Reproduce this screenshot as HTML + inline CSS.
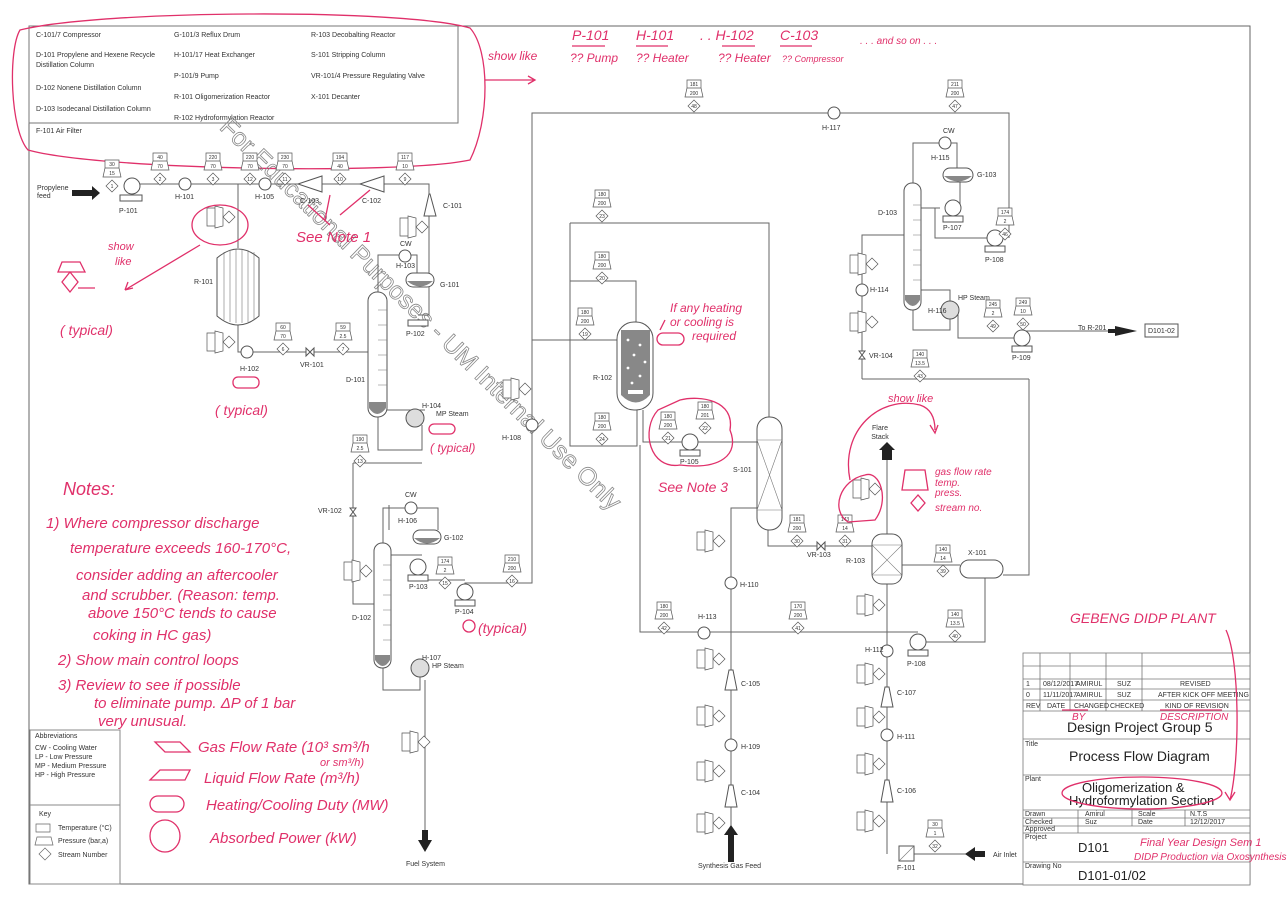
<!DOCTYPE html>
<html><head><meta charset="utf-8"><style>
html,body{margin:0;padding:0;background:#fff;}
svg{display:block;font-family:"Liberation Sans",sans-serif;}
.l{stroke:#666;stroke-width:1;fill:none}
.t{font-size:7px;fill:#333}
.s{font-size:5px;fill:#333;text-anchor:middle}
.r{fill:#e0306a;font-family:"Liberation Sans",sans-serif;font-style:italic}
.rl{stroke:#e0306a;stroke-width:1.3;fill:none}
</style></head><body>
<svg width="1287" height="905" viewBox="0 0 1287 905" xmlns="http://www.w3.org/2000/svg">
<rect x="29" y="26" width="1221" height="858" class="l" stroke="#999"/>
<rect x="29" y="26" width="429" height="97" fill="#fff" stroke="#777"/>
<g class="t">
<text x="36" y="37">C-101/7 Compressor</text>
<text x="36" y="57">D-101 Propylene and Hexene Recycle</text>
<text x="36" y="67">Distillation Column</text>
<text x="36" y="90">D-102 Nonene Distillation Column</text>
<text x="36" y="111">D-103 Isodecanal Distillation Column</text>
<text x="36" y="133">F-101 Air Filter</text>
<text x="174" y="37">G-101/3 Reflux Drum</text>
<text x="174" y="57">H-101/17 Heat Exchanger</text>
<text x="174" y="78">P-101/9 Pump</text>
<text x="174" y="99">R-101  Oligomerization Reactor</text>
<text x="174" y="120">R-102  Hydroformylation Reactor</text>
<text x="311" y="37">R-103  Decobalting Reactor</text>
<text x="311" y="57">S-101 Stripping Column</text>
<text x="311" y="78">VR-101/4 Pressure Regulating Valve</text>
<text x="311" y="99">X-101 Decanter</text>
</g>
<path class="rl" d="M20,30 C100,10 400,8 470,28 C490,50 490,120 470,160 C400,175 100,170 28,150 C10,130 8,50 20,30Z"/>
<path class="rl" d="M485,80 L535,80 M528,76 L535,80 L528,84"/>
<g class="r" font-size="12">
<text x="488" y="60">show like</text>
<text x="572" y="40" font-size="14">P-101</text><text x="570" y="62">?? Pump</text>
<text x="636" y="40" font-size="14">H-101</text><text x="636" y="62">?? Heater</text>
<text x="700" y="40" font-size="14">. . H-102</text><text x="718" y="62">?? Heater</text>
<text x="780" y="40" font-size="14">C-103</text><text x="782" y="62" font-size="9">?? Compressor</text>
<text x="860" y="44" font-size="10">. . . and so on . . .</text>
</g>
<path class="rl" d="M572,46 H605 M636,46 H668 M722,46 H755 M780,46 H812"/>

<text x="0" y="0" transform="translate(415,320) rotate(44.3)" text-anchor="middle" font-size="25" fill="none" stroke="#888" stroke-width="0.8">For Educational Purposes - UM Internal Use Only</text>

<g class="l">
<path d="M132,184 H429 V194 M429,216 V315 H418"/>
<path d="M238,184 V248 M238,325 V352 H368"/>
<path d="M378,292 V255 H417 V275"/>
<path d="M378,417 V450 H422 V425 M353,463 H422 M353,463 V604 H374"/>
<path d="M383,668 V690 H420 V675"/>
<path d="M383,543 V508 H438 V530"/>
<path d="M422,555 H391 M418,567 V580 H465"/>
<path d="M465,592 V583 H532 V113 H1009 V238"/>
<path d="M532,340 H617"/>
<path d="M570,223 H769 V417 M570,223 V446 H637 V410 M570,281 H636 V322"/>
<path d="M643,410 V442 H690 H757"/>
<path d="M768,530 V546 H872"/>
<path d="M887,534 V460"/>
<path d="M902,565 H960 M985,578 V642 H918"/>
<path d="M1029,379 V575 H1003 M862,379 H1029"/>
<path d="M640,445 V632 H918"/>
<path d="M731,860 V508 H757"/>
<path d="M887,854 V580 M906,854 H985"/>
<path d="M862,379 V235 H904"/>
<path d="M913,183 V143 H957 V168 M960,182 V208 H953"/>
<path d="M921,208 H940 M935,208 V238 H995"/>
<path d="M913,310 V330 H950 V318 M921,290 H950 V302"/>
<path d="M958,310 V338 H1022"/>
<path d="M1022,331 H1115"/>
<path d="M425,410 H387"/>
<path d="M389,505 V530"/>
</g>
<path d="M72,190 H92 V186 L100,193 L92,200 V196 H72Z" fill="#222"/>
<path d="M1115,326 L1137,331 L1115,336Z M1108,329 H1116 V333 H1108Z" fill="#222"/>
<path d="M882,460 H892 V450 H895 L887,442 L879,450 H882Z" fill="#222"/>
<path d="M728,862 V835 H724 L731,825 L738,835 H734 V862Z" fill="#222"/>
<path d="M985,851 H975 V847 L965,854 L975,861 V857 H985Z" fill="#222"/>
<path d="M422,830 V840 H418 L425,852 L432,840 H428 V830Z" fill="#222"/>
<path class="l" d="M425,680 V830"/>
<text x="37" y="190" class="t">Propylene</text><text x="37" y="198" class="t">feed</text>
<text x="880" y="430" class="t" text-anchor="middle">Flare</text><text x="880" y="439" class="t" text-anchor="middle">Stack</text>
<text x="698" y="868" class="t">Synthesis Gas Feed</text>
<text x="993" y="857" class="t">Air Inlet</text>
<text x="406" y="866" class="t">Fuel System</text>
<text x="1078" y="330" class="t">To  R-201</text>
<rect x="1145" y="324" width="33" height="13" fill="#fff" stroke="#555"/><text x="1148" y="333" class="t">D101-02</text>

<g fill="#fff" stroke="#555">
<circle cx="132" cy="186" r="8"/><rect x="120" y="195" width="22" height="6"/>
<circle cx="418" cy="567" r="8"/><rect x="408" y="575" width="20" height="6"/>
<circle cx="465" cy="592" r="8"/><rect x="455" y="600" width="20" height="6"/>
<circle cx="690" cy="442" r="8"/><rect x="680" y="450" width="20" height="6"/>
<circle cx="918" cy="642" r="8"/><rect x="908" y="650" width="20" height="6"/>
<circle cx="953" cy="208" r="8"/><rect x="943" y="216" width="20" height="6"/>
<circle cx="995" cy="238" r="8"/><rect x="985" y="246" width="20" height="6"/>
<circle cx="1022" cy="338" r="8"/><rect x="1012" y="346" width="20" height="6"/>
<rect x="408" y="320" width="20" height="6"/>
<circle cx="185" cy="184" r="6"/><circle cx="265" cy="184" r="6"/><circle cx="247" cy="352" r="6"/>
<circle cx="405" cy="256" r="6"/><circle cx="411" cy="508" r="6"/><circle cx="834" cy="113" r="6"/>
<circle cx="945" cy="143" r="6"/><circle cx="862" cy="290" r="6"/><circle cx="731" cy="583" r="6"/>
<circle cx="704" cy="633" r="6"/><circle cx="731" cy="745" r="6"/><circle cx="887" cy="651" r="6"/><circle cx="887" cy="735" r="6"/>
<circle cx="532" cy="425" r="6"/>
<circle cx="415" cy="418" r="9" fill="#ddd"/><circle cx="420" cy="668" r="9" fill="#ddd"/><circle cx="950" cy="310" r="9" fill="#ddd"/>
<path d="M298,184 L322,176 V192Z"/><path d="M360,184 L384,176 V192Z"/>
<path d="M424,216 L429,194 H430 L436,216Z"/>
<path d="M725,690 L729,670 H733 L737,690Z"/><path d="M725,807 L729,785 H733 L737,807Z"/>
<path d="M881,707 L885,687 H889 L893,707Z"/><path d="M881,802 L885,780 H889 L893,802Z"/>
<path d="M217,258 Q238,240 259,258 V316 Q238,334 217,316Z"/>
<rect x="368" y="292" width="19" height="125" rx="9"/>
<rect x="374" y="543" width="17" height="125" rx="8"/>
<rect x="904" y="183" width="17" height="127" rx="8"/>
<rect x="757" y="417" width="25" height="113" rx="12"/>
<rect x="872" y="534" width="30" height="50" rx="10"/>
<rect x="617" y="322" width="36" height="88" rx="17"/>
<rect x="406" y="273" width="28" height="14" rx="7"/>
<rect x="413" y="530" width="28" height="14" rx="7"/>
<rect x="943" y="168" width="30" height="14" rx="7"/>
<rect x="960" y="560" width="43" height="18" rx="9"/>
<rect x="899" y="846" width="15" height="15"/>
</g>
<g fill="#888">
<path d="M369,402 H386 V408 Q377,420 369,408Z"/><path d="M375,655 H390 V660 Q383,672 375,660Z"/>
<path d="M905,295 H920 V300 Q913,312 905,300Z"/>
<path d="M407,281 H433 Q420,292 407,281Z"/><path d="M414,538 H440 Q427,549 414,538Z"/><path d="M944,176 H972 Q958,187 944,176Z"/>
<path d="M621,330 H650 V395 Q636,410 621,395Z"/>
</g>
<g stroke="#777" fill="none" stroke-width="0.6">
<path d="M224,252 V320 M230,250 V322 M236,249 V323 M242,249 V323 M248,250 V322 M254,252 V320"/>
<path d="M757,440 L782,510 M782,440 L757,510 M757,440 H782 M757,510 H782 M872,545 L902,575 M902,545 L872,575 M872,545 H902 M872,575 H902 M899,861 L914,846"/>
<path d="M378,310 H387 M378,325 H387 M378,340 H387 M378,355 H387 M378,370 H387 M378,385 H387"/>
<path d="M383,565 H391 M383,580 H391 M383,595 H391 M383,610 H391 M383,625 H391 M383,640 H391"/>
<path d="M913,205 H921 M913,220 H921 M913,235 H921 M913,250 H921 M913,265 H921 M913,280 H921"/>
</g>
<g fill="#fff"><circle cx="628" cy="340" r="1.4"/><circle cx="640" cy="345" r="1.4"/><circle cx="634" cy="355" r="1.4"/><circle cx="645" cy="362" r="1.4"/><circle cx="628" cy="368" r="1.4"/><circle cx="640" cy="376" r="1.4"/><circle cx="632" cy="383" r="1.4"/><rect x="628" y="390" width="15" height="4"/></g>
<path d="M306,348 L314,356 V348 L306,356Z M350,508 L356,516 H350 L356,508Z M817,542 L825,550 V542 L817,550Z M859,351 L865,359 H859 L865,351Z" fill="#fff" stroke="#555"/>

<g class="t">
<text x="119" y="213">P-101</text><text x="175" y="199">H-101</text><text x="255" y="199">H-105</text>
<text x="300" y="203">C-103</text><text x="362" y="203">C-102</text><text x="443" y="208">C-101</text>
<text x="194" y="284">R-101</text><text x="240" y="371">H-102</text><text x="300" y="367">VR-101</text>
<text x="400" y="246">CW</text><text x="396" y="268">H-103</text><text x="440" y="287">G-101</text>
<text x="406" y="336">P-102</text><text x="346" y="382">D-101</text><text x="422" y="408">H-104</text>
<text x="436" y="416">MP Steam</text><text x="318" y="513">VR-102</text><text x="405" y="497">CW</text>
<text x="398" y="523">H-106</text><text x="444" y="540">G-102</text><text x="409" y="589">P-103</text>
<text x="455" y="614">P-104</text><text x="352" y="620">D-102</text><text x="422" y="660">H-107</text>
<text x="432" y="668">HP Steam</text><text x="502" y="440">H-108</text>
<text x="593" y="380">R-102</text><text x="680" y="464">P-105</text><text x="733" y="472">S-101</text>
<text x="822" y="130">H-117</text><text x="807" y="557">VR-103</text><text x="846" y="563">R-103</text>
<text x="968" y="555">X-101</text><text x="907" y="666">P-108</text>
<text x="740" y="587">H-110</text><text x="698" y="619">H-113</text><text x="741" y="686">C-105</text>
<text x="741" y="749">H-109</text><text x="741" y="795">C-104</text><text x="865" y="652">H-112</text>
<text x="897" y="695">C-107</text><text x="897" y="739">H-111</text><text x="897" y="793">C-106</text>
<text x="897" y="870">F-101</text><text x="943" y="133">CW</text><text x="931" y="160">H-115</text>
<text x="977" y="177">G-103</text><text x="878" y="215">D-103</text><text x="943" y="230">P-107</text>
<text x="985" y="262">P-108</text><text x="870" y="292">H-114</text><text x="928" y="313">H-116</text>
<text x="958" y="300">HP Steam</text><text x="1012" y="360">P-109</text><text x="869" y="358">VR-104</text>
</g>

<g stroke="#555" fill="#fff" stroke-width="0.7">
<path d="M105,160h14v8h-14z M103,177l2,-9h14l2,9z M112,180l6,6l-6,6l-6,-6z"/>
<path d="M153,153h14v8h-14z M151,170l2,-9h14l2,9z M160,173l6,6l-6,6l-6,-6z"/>
<path d="M206,153h14v8h-14z M204,170l2,-9h14l2,9z M213,173l6,6l-6,6l-6,-6z"/>
<path d="M243,153h14v8h-14z M241,170l2,-9h14l2,9z M250,173l6,6l-6,6l-6,-6z"/>
<path d="M278,153h14v8h-14z M276,170l2,-9h14l2,9z M285,173l6,6l-6,6l-6,-6z"/>
<path d="M333,153h14v8h-14z M331,170l2,-9h14l2,9z M340,173l6,6l-6,6l-6,-6z"/>
<path d="M398,153h14v8h-14z M396,170l2,-9h14l2,9z M405,173l6,6l-6,6l-6,-6z"/>
<path d="M276,323h14v8h-14z M274,340l2,-9h14l2,9z M283,343l6,6l-6,6l-6,-6z"/>
<path d="M336,323h14v8h-14z M334,340l2,-9h14l2,9z M343,343l6,6l-6,6l-6,-6z"/>
<path d="M595,190h14v8h-14z M593,207l2,-9h14l2,9z M602,210l6,6l-6,6l-6,-6z"/>
<path d="M595,252h14v8h-14z M593,269l2,-9h14l2,9z M602,272l6,6l-6,6l-6,-6z"/>
<path d="M578,308h14v8h-14z M576,325l2,-9h14l2,9z M585,328l6,6l-6,6l-6,-6z"/>
<path d="M595,413h14v8h-14z M593,430l2,-9h14l2,9z M602,433l6,6l-6,6l-6,-6z"/>
<path d="M661,412h14v8h-14z M659,429l2,-9h14l2,9z M668,432l6,6l-6,6l-6,-6z"/>
<path d="M698,402h14v8h-14z M696,419l2,-9h14l2,9z M705,422l6,6l-6,6l-6,-6z"/>
<path d="M353,435h14v8h-14z M351,452l2,-9h14l2,9z M360,455l6,6l-6,6l-6,-6z"/>
<path d="M438,557h14v8h-14z M436,574l2,-9h14l2,9z M445,577l6,6l-6,6l-6,-6z"/>
<path d="M505,555h14v8h-14z M503,572l2,-9h14l2,9z M512,575l6,6l-6,6l-6,-6z"/>
<path d="M687,80h14v8h-14z M685,97l2,-9h14l2,9z M694,100l6,6l-6,6l-6,-6z"/>
<path d="M948,80h14v8h-14z M946,97l2,-9h14l2,9z M955,100l6,6l-6,6l-6,-6z"/>
<path d="M998,208h14v8h-14z M996,225l2,-9h14l2,9z M1005,228l6,6l-6,6l-6,-6z"/>
<path d="M986,300h14v8h-14z M984,317l2,-9h14l2,9z M993,320l6,6l-6,6l-6,-6z"/>
<path d="M1016,298h14v8h-14z M1014,315l2,-9h14l2,9z M1023,318l6,6l-6,6l-6,-6z"/>
<path d="M913,350h14v8h-14z M911,367l2,-9h14l2,9z M920,370l6,6l-6,6l-6,-6z"/>
<path d="M790,515h14v8h-14z M788,532l2,-9h14l2,9z M797,535l6,6l-6,6l-6,-6z"/>
<path d="M838,515h14v8h-14z M836,532l2,-9h14l2,9z M845,535l6,6l-6,6l-6,-6z"/>
<path d="M936,545h14v8h-14z M934,562l2,-9h14l2,9z M943,565l6,6l-6,6l-6,-6z"/>
<path d="M657,602h14v8h-14z M655,619l2,-9h14l2,9z M664,622l6,6l-6,6l-6,-6z"/>
<path d="M791,602h14v8h-14z M789,619l2,-9h14l2,9z M798,622l6,6l-6,6l-6,-6z"/>
<path d="M948,610h14v8h-14z M946,627l2,-9h14l2,9z M955,630l6,6l-6,6l-6,-6z"/>
<path d="M928,820h14v8h-14z M926,837l2,-9h14l2,9z M935,840l6,6l-6,6l-6,-6z"/>
</g>
<g class="s">
<text x="112" y="166">30</text><text x="112" y="175">15</text><text x="112" y="188">1</text>
<text x="160" y="159">40</text><text x="160" y="168">70</text><text x="160" y="181">2</text>
<text x="213" y="159">220</text><text x="213" y="168">70</text><text x="213" y="181">3</text>
<text x="250" y="159">220</text><text x="250" y="168">70</text><text x="250" y="181">12</text>
<text x="285" y="159">230</text><text x="285" y="168">70</text><text x="285" y="181">11</text>
<text x="340" y="159">194</text><text x="340" y="168">40</text><text x="340" y="181">10</text>
<text x="405" y="159">117</text><text x="405" y="168">10</text><text x="405" y="181">9</text>
<text x="283" y="329">60</text><text x="283" y="338">70</text><text x="283" y="351">6</text>
<text x="343" y="329">59</text><text x="343" y="338">2.5</text><text x="343" y="351">7</text>
<text x="602" y="196">180</text><text x="602" y="205">200</text><text x="602" y="218">23</text>
<text x="602" y="258">180</text><text x="602" y="267">200</text><text x="602" y="280">20</text>
<text x="585" y="314">180</text><text x="585" y="323">200</text><text x="585" y="336">19</text>
<text x="602" y="419">180</text><text x="602" y="428">200</text><text x="602" y="441">24</text>
<text x="668" y="418">180</text><text x="668" y="427">200</text><text x="668" y="440">21</text>
<text x="705" y="408">180</text><text x="705" y="417">201</text><text x="705" y="430">22</text>
<text x="360" y="441">190</text><text x="360" y="450">2.5</text><text x="360" y="463">13</text>
<text x="445" y="563">174</text><text x="445" y="572">2</text><text x="445" y="585">15</text>
<text x="512" y="561">210</text><text x="512" y="570">200</text><text x="512" y="583">16</text>
<text x="694" y="86">181</text><text x="694" y="95">200</text><text x="694" y="108">48</text>
<text x="955" y="86">211</text><text x="955" y="95">200</text><text x="955" y="108">47</text>
<text x="1005" y="214">174</text><text x="1005" y="223">2</text><text x="1005" y="236">46</text>
<text x="993" y="306">245</text><text x="993" y="315">2</text><text x="993" y="328">49</text>
<text x="1023" y="304">249</text><text x="1023" y="313">10</text><text x="1023" y="326">50</text>
<text x="920" y="356">140</text><text x="920" y="365">13.5</text><text x="920" y="378">43</text>
<text x="797" y="521">181</text><text x="797" y="530">200</text><text x="797" y="543">30</text>
<text x="845" y="521">143</text><text x="845" y="530">14</text><text x="845" y="543">31</text>
<text x="943" y="551">140</text><text x="943" y="560">14</text><text x="943" y="573">39</text>
<text x="664" y="608">180</text><text x="664" y="617">200</text><text x="664" y="630">42</text>
<text x="798" y="608">170</text><text x="798" y="617">200</text><text x="798" y="630">41</text>
<text x="955" y="616">140</text><text x="955" y="625">13.5</text><text x="955" y="638">40</text>
<text x="935" y="826">30</text><text x="935" y="835">1</text><text x="935" y="848">32</text>
</g>
<g stroke="#555" fill="#fff" stroke-width="0.7">
<path d="M207,208h8v18h-8z M215,206l8,2v18l-8,2z M229,211l6,6l-6,6l-6,-6z"/>
<path d="M207,333h8v18h-8z M215,331l8,2v18l-8,2z M229,336l6,6l-6,6l-6,-6z"/>
<path d="M400,218h8v18h-8z M408,216l8,2v18l-8,2z M422,221l6,6l-6,6l-6,-6z"/>
<path d="M344,562h8v18h-8z M352,560l8,2v18l-8,2z M366,565l6,6l-6,6l-6,-6z"/>
<path d="M402,733h8v18h-8z M410,731l8,2v18l-8,2z M424,736l6,6l-6,6l-6,-6z"/>
<path d="M503,380h8v18h-8z M511,378l8,2v18l-8,2z M525,383l6,6l-6,6l-6,-6z"/>
<path d="M850,255h8v18h-8z M858,253l8,2v18l-8,2z M872,258l6,6l-6,6l-6,-6z"/>
<path d="M850,313h8v18h-8z M858,311l8,2v18l-8,2z M872,316l6,6l-6,6l-6,-6z"/>
<path d="M697,532h8v18h-8z M705,530l8,2v18l-8,2z M719,535l6,6l-6,6l-6,-6z"/>
<path d="M697,650h8v18h-8z M705,648l8,2v18l-8,2z M719,653l6,6l-6,6l-6,-6z"/>
<path d="M697,707h8v18h-8z M705,705l8,2v18l-8,2z M719,710l6,6l-6,6l-6,-6z"/>
<path d="M697,762h8v18h-8z M705,760l8,2v18l-8,2z M719,765l6,6l-6,6l-6,-6z"/>
<path d="M697,814h8v18h-8z M705,812l8,2v18l-8,2z M719,817l6,6l-6,6l-6,-6z"/>
<path d="M853,480h8v18h-8z M861,478l8,2v18l-8,2z M875,483l6,6l-6,6l-6,-6z"/>
<path d="M857,596h8v18h-8z M865,594l8,2v18l-8,2z M879,599l6,6l-6,6l-6,-6z"/>
<path d="M857,665h8v18h-8z M865,663l8,2v18l-8,2z M879,668l6,6l-6,6l-6,-6z"/>
<path d="M857,708h8v18h-8z M865,706l8,2v18l-8,2z M879,711l6,6l-6,6l-6,-6z"/>
<path d="M857,755h8v18h-8z M865,753l8,2v18l-8,2z M879,758l6,6l-6,6l-6,-6z"/>
<path d="M857,812h8v18h-8z M865,810l8,2v18l-8,2z M879,815l6,6l-6,6l-6,-6z"/>
</g>
<g class="rl">
<ellipse cx="220" cy="225" rx="28" ry="20"/>
<path d="M200,245 L125,290 M125,290 l3,-8 M125,290 l8,-2"/>
<path d="M62,262 H80 L85,272 H58Z M70,272 l-8,10 l8,10 l8,-10z M78,288 H95"/>
<rect x="233" y="377" width="26" height="11" rx="5"/>
<rect x="429" y="424" width="26" height="10" rx="5"/>
<rect x="657" y="333" width="27" height="12" rx="6"/>
<path d="M665,320 L660,330"/>
<circle cx="469" cy="626" r="6"/>
<path d="M658,410 C640,430 650,470 680,465 C720,470 740,455 730,430 C735,400 700,395 680,400 Z"/>
<path d="M848,522 C830,510 840,480 865,475 C880,470 890,500 875,520 Z"/>
<path d="M850,480 C840,430 880,395 920,405 C935,410 935,425 935,430 M930,425 l5,8 l3,-8"/>
<path d="M905,470 H925 L928,490 H902Z M918,495 l-7,8 l7,8 l7,-8z"/>
<path d="M330,195 L325,220 M370,190 L340,215 M308,205 L330,225"/>
<path d="M155,742 H180 L190,752 H165Z M160,770 H190 L185,780 H150Z"/>
<rect x="150" y="796" width="34" height="16" rx="8"/>
<ellipse cx="165" cy="836" rx="15" ry="16"/>
</g>
<g class="r">
<text x="108" y="250" font-size="11">show</text><text x="115" y="265" font-size="11">like</text>
<text x="60" y="335" font-size="14">( typical)</text>
<text x="215" y="415" font-size="14">( typical)</text>
<text x="430" y="452" font-size="12">( typical)</text>
<text x="478" y="633" font-size="14">(typical)</text>
<text x="296" y="242" font-size="15">See Note 1</text>
<text x="658" y="492" font-size="14">See Note 3</text>
<text x="670" y="312" font-size="12">If any heating</text>
<text x="670" y="326" font-size="12">or cooling is</text>
<text x="692" y="340" font-size="12">required</text>
<text x="888" y="402" font-size="11">show like</text>
<text x="935" y="475" font-size="10">gas flow rate</text>
<text x="935" y="486" font-size="10">temp.</text>
<text x="935" y="496" font-size="10">press.</text>
<text x="935" y="511" font-size="10">stream no.</text>
<text x="1070" y="623" font-size="14">GEBENG DIDP PLANT</text>
<text x="63" y="495" font-size="18">Notes:</text>
<g font-size="15">
<text x="46" y="528">1) Where compressor discharge</text>
<text x="70" y="553">temperature exceeds 160-170°C,</text>
<text x="76" y="580">consider adding an aftercooler</text>
<text x="82" y="600">and scrubber. (Reason: temp.</text>
<text x="88" y="618">above 150°C tends to cause</text>
<text x="93" y="640">coking in HC gas)</text>
<text x="58" y="665">2) Show main control loops</text>
<text x="58" y="690">3) Review to see if possible</text>
<text x="94" y="708">to eliminate pump. ΔP of 1 bar</text>
<text x="98" y="726">very unusual.</text>
<text x="198" y="752">Gas Flow Rate (10³ sm³/h</text>
<text x="320" y="766" font-size="11">or sm³/h)</text>
<text x="204" y="783">Liquid Flow Rate (m³/h)</text>
<text x="206" y="810">Heating/Cooling Duty (MW)</text>
<text x="210" y="843">Absorbed Power  (kW)</text>
</g>
</g>
<rect x="30" y="730" width="90" height="154" fill="none" stroke="#888"/>
<line x1="30" y1="805" x2="120" y2="805" stroke="#888"/>
<g class="t" font-size="6.5">
<text x="35" y="738">Abbreviations</text>
<text x="35" y="750">CW - Cooling Water</text><text x="35" y="759">LP  - Low Pressure</text>
<text x="35" y="768">MP - Medium Pressure</text><text x="35" y="777">HP - High Pressure</text>
<text x="39" y="816">Key</text>
<text x="58" y="830">Temperature (°C)</text><text x="58" y="843">Pressure (bar,a)</text><text x="58" y="857">Stream Number</text>
</g>
<path d="M36,824h14v8h-14z M35,845l2,-8h14l2,8z M45,848l6,6l-6,6l-6,-6z" fill="none" stroke="#666" stroke-width="0.7"/>
<g stroke="#777" fill="none" stroke-width="0.8">
<rect x="1023" y="653" width="227" height="232" fill="#fff"/>
<path d="M1023,666 H1250 M1023,679 H1250 M1023,689 H1250 M1023,700 H1250 M1023,711 H1250 M1023,739 H1250 M1023,775 H1250 M1023,810 H1250 M1023,818 H1250 M1023,826 H1250 M1023,833 H1250 M1023,862 H1250"/>
<path d="M1040,653 V711 M1070,653 V711 M1106,653 V711 M1142,653 V711 M1078,810 V833 M1132,810 V826 M1185,810 V826"/>
</g>
<g class="t" font-size="5.5">
<text x="1026" y="686">1</text><text x="1043" y="686">08/12/2017</text><text x="1076" y="686">AMIRUL</text><text x="1117" y="686">SUZ</text><text x="1180" y="686">REVISED</text>
<text x="1026" y="697">0</text><text x="1043" y="697">11/11/2017</text><text x="1076" y="697">AMIRUL</text><text x="1117" y="697">SUZ</text><text x="1158" y="697">AFTER KICK OFF MEETING</text>
<text x="1026" y="708">REV</text><text x="1047" y="708">DATE</text><text x="1074" y="708">CHANGED</text><text x="1110" y="708">CHECKED</text><text x="1165" y="708">KIND OF REVISION</text>
<text x="1025" y="746">Title</text><text x="1025" y="781">Plant</text>
<text x="1025" y="816">Drawn</text><text x="1085" y="816">Amirul</text><text x="1138" y="816">Scale</text><text x="1190" y="816">N.T.S</text>
<text x="1025" y="824">Checked</text><text x="1085" y="824">Suz</text><text x="1138" y="824">Date</text><text x="1190" y="824">12/12/2017</text>
<text x="1025" y="831">Approved</text><text x="1025" y="839">Project</text><text x="1025" y="868">Drawing No</text>
</g>
<g fill="#222" font-family="Liberation Sans,sans-serif">
<text x="1067" y="732" font-size="14">Design Project Group 5</text>
<text x="1069" y="761" font-size="14">Process Flow Diagram</text>
<text x="1082" y="792" font-size="13">Oligomerization &amp;</text>
<text x="1069" y="805" font-size="13">Hydroformylation Section</text>
<text x="1078" y="852" font-size="13">D101</text>
<text x="1078" y="880" font-size="13">D101-01/02</text>
</g>
<g class="rl">
<path d="M1226,630 C1240,660 1240,760 1230,800 M1225,792 l5,8 l5,-8"/>
<ellipse cx="1142" cy="793" rx="80" ry="16"/>
<path d="M1062,710 H1088 M1160,710 H1222"/>
</g>
<g class="r">
<text x="1072" y="720" font-size="10">BY</text><text x="1160" y="720" font-size="10">DESCRIPTION</text>
<text x="1140" y="846" font-size="11">Final Year Design Sem 1</text>
<text x="1134" y="860" font-size="10">DIDP Production via Oxosynthesis</text>
</g>
</svg>
</body></html>
